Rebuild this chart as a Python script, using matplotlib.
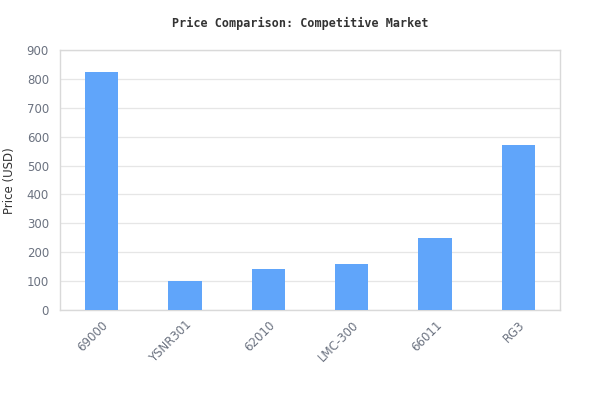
import matplotlib
matplotlib.use("Agg")
import matplotlib.pyplot as plt
import numpy as np

models = ["69000", "YSNR301", "62010", "LMC-300", "66011", "RG3"]
prices = [825, 100, 142, 160, 250, 572]
y_ticks = [0, 100, 200, 300, 400, 500, 600, 700, 800, 900]

BAR_COLOR = "#60a5fa"
GRID_COLOR = "#e6e6e6"
TICK_COLOR = "#6b7280"

fig = plt.figure(figsize=(6, 4.2), dpi=100)
ax = fig.add_axes([0.1, 0.262, 0.8333, 0.619])

x = np.arange(len(models))
ax.bar(x, prices, width=0.4, color=BAR_COLOR, zorder=3)

ax.set_xlim(-0.5, len(models) - 0.5)
ax.set_ylim(0, 900)
ax.set_yticks(y_ticks)
ax.set_xticks(x)
ax.set_xticklabels(models, rotation=45, ha="right", rotation_mode="anchor")
ax.tick_params(axis="both", length=0, labelsize=8.5, colors=TICK_COLOR)
ax.tick_params(axis="x", pad=6)
ax.tick_params(axis="y", pad=8)

ax.grid(axis="y", color=GRID_COLOR, linewidth=0.9, zorder=0)
for side in ax.spines.values():
    side.set_color("#d9d9d9")
    side.set_linewidth(1)

# y label placed by hand so it stays inside the canvas
fig.text(10 / 600, 1 - 181 / 420, "Price (USD)", rotation=90, ha="center",
         va="center", fontsize=8.5, color="#333333")
fig.text(0.5, 0.945, "Price Comparison: Competitive Market", ha="center",
         va="center", fontsize=8.5, fontweight="bold", family="DejaVu Sans Mono",
         color="#333333")

fig.savefig("out.png", dpi=100)
